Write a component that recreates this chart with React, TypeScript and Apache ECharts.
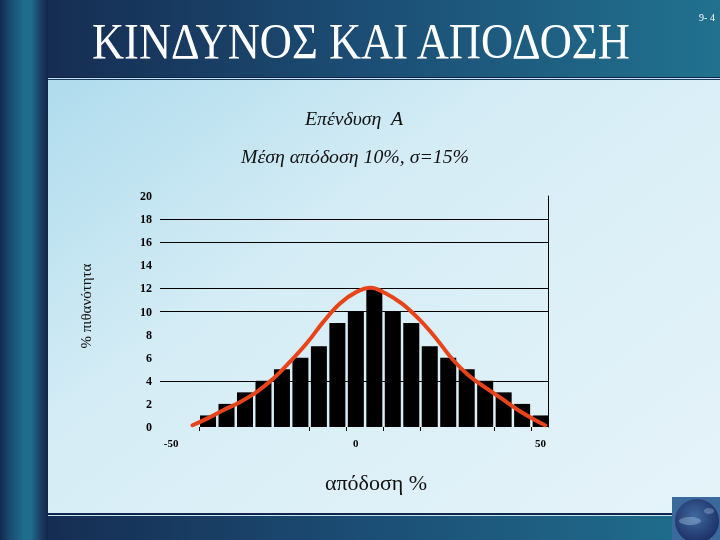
import React, { useEffect, useRef } from "react";
import * as echarts from "echarts";

// ---- data ----
const binCenters = [-40, -35, -30, -25, -20, -15, -10, -5, 0, 5, 10, 15, 20, 25, 30, 35, 40, 45, 50];
const probabilities = [1, 2, 3, 4, 5, 6, 7, 9, 10, 12, 10, 9, 7, 6, 5, 4, 3, 2, 1];
const curveX = [-44.2, -40.4, -35.9, -31.4, -26.8, -22.3, -17.8, -13.3, -8.8, -4.3, 0.2, 4, 7.9, 12.4, 16.9, 21.4, 25.9, 30.4, 34.9, 39.5, 44, 48.5, 51.2];
const curveY = [0.15, 0.7, 1.45, 2.15, 3.05, 4.2, 5.65, 7.25, 9.1, 10.7, 11.7, 12.05, 11.6, 10.7, 9.4, 7.8, 5.95, 4.5, 3.45, 2.45, 1.45, 0.6, 0.15];
const gridValues = [4, 10, 12, 16, 18];
const xLabelValues = [-50, 0, 50];
const xTickValues = [-42.5, -12.5, -2.5, 7.5, 17.5, 37.5, 47.5];

const titleText = "ΚΙΝΔΥΝΟΣ ΚΑΙ ΑΠΟΔΟΣΗ";
const subtitle1 = "Επένδυση  Α";
const subtitle2 = "Μέση απόδοση 10%, σ=15%";
const xName = "απόδοση %";
const yName = "% πιθανότητα";
const slideNo = "9- 4";

const SERIF = "'Liberation Serif', 'Times New Roman', serif";

export default function App() {
  const ref = useRef<HTMLDivElement>(null);
  useEffect(() => {
    const chart = echarts.init(ref.current!, null, { renderer: "svg" });
    const hGrad = (stops: [number, string][]) => ({
      type: "linear", x: 0, y: 0, x2: 1, y2: 0,
      colorStops: stops.map(([offset, color]) => ({ offset, color })),
    });
    const option: any = {
      animation: false,
      graphic: [
        // content background
        { type: "rect", z: -10, shape: { x: 0, y: 0, width: 720, height: 540 },
          style: { fill: { type: "linear", x: 0, y: 0, x2: 1, y2: 1,
            colorStops: [{ offset: 0, color: "#a3d6ea" }, { offset: 0.45, color: "#d6edf6" }, { offset: 1, color: "#e6f4f9" }] } } },
        // top band
        { type: "rect", z: -9, shape: { x: 0, y: 0, width: 720, height: 77 },
          style: { fill: hGrad([[0, "#15284d"], [0.5, "#1c4d74"], [1, "#21718f"]]) } },
        { type: "rect", z: -8, shape: { x: 0, y: 77, width: 720, height: 1 }, style: { fill: "#0f2346" } },
        { type: "rect", z: -8, shape: { x: 0, y: 78, width: 720, height: 1 }, style: { fill: "#c4e2ef" } },
        { type: "rect", z: -8, shape: { x: 0, y: 79, width: 720, height: 1 }, style: { fill: "#1b3a60" } },
        // bottom band
        { type: "rect", z: -9, shape: { x: 0, y: 513, width: 720, height: 2 }, style: { fill: "#10254a" } },
        { type: "rect", z: -9, shape: { x: 0, y: 515, width: 720, height: 1 }, style: { fill: "#c4e2ef" } },
        { type: "rect", z: -9, shape: { x: 0, y: 516, width: 720, height: 24 },
          style: { fill: hGrad([[0, "#15284d"], [0.5, "#1c4d74"], [1, "#20708f"]]) } },
        // left column
        { type: "rect", z: -7, shape: { x: 0, y: 0, width: 48, height: 540 },
          style: { fill: hGrad([[0, "#14284d"], [0.2, "#1a4a70"], [0.5, "#1f6d8d"], [0.65, "#1f6d8d"], [0.85, "#1a3d62"], [1, "#132548"]]) } },
        // globe
        { type: "rect", z: -6, shape: { x: 672, y: 497, width: 48, height: 43 }, style: { fill: "#3a6a9b" } },
        { type: "circle", z: -5, shape: { cx: 697, cy: 521, r: 22 },
          style: { fill: { type: "radial", x: 0.45, y: 0.4, r: 0.65,
            colorStops: [{ offset: 0, color: "#3f6aa0" }, { offset: 1, color: "#1a2a60" }] } } },
        { type: "ellipse", z: -4, shape: { cx: 690, cy: 521, rx: 11, ry: 4 }, style: { fill: "rgba(190,215,240,0.35)" } },
        { type: "ellipse", z: -4, shape: { cx: 709, cy: 511, rx: 5, ry: 3 }, style: { fill: "rgba(190,215,240,0.3)" } },
        // texts
        { type: "text", z: 10, x: 92, y: 41, scaleX: 0.89, originX: 0, originY: 0,
          style: { text: titleText, fill: "#ffffff", fontFamily: SERIF, fontSize: 50, align: "left", verticalAlign: "middle" } },
        { type: "text", z: 10, x: 707, y: 17,
          style: { text: slideNo, fill: "#ffffff", fontFamily: SERIF, fontSize: 10, align: "center", verticalAlign: "middle" } },
        { type: "text", z: 10, x: 354, y: 119, scaleX: 1.1, originX: 0, originY: 0,
          style: { text: subtitle1, fill: "#111111", fontFamily: SERIF, fontStyle: "italic", fontSize: 18, align: "center", verticalAlign: "middle" } },
        { type: "text", z: 10, x: 355, y: 157, scaleX: 1.1, originX: 0, originY: 0,
          style: { text: subtitle2, fill: "#111111", fontFamily: SERIF, fontStyle: "italic", fontSize: 18, align: "center", verticalAlign: "middle" } },
        { type: "text", z: 10, x: 376, y: 482,
          style: { text: xName, fill: "#111111", fontFamily: SERIF, fontSize: 22, align: "center", verticalAlign: "middle" } },
        { type: "text", z: 10, x: 86, y: 306, rotation: Math.PI / 2,
          style: { text: yName, fill: "#111111", fontFamily: SERIF, fontSize: 15, align: "center", verticalAlign: "middle" } },
      ],
      grid: { left: 160, top: 196, width: 388, height: 231 },
      xAxis: {
        type: "value", min: -53, max: 52,
        axisLine: { show: false },
        splitLine: { show: false },
        axisTick: { show: true, customValues: xTickValues, length: 4, lineStyle: { color: "#000", width: 1 } },
        axisLabel: { customValues: xLabelValues, margin: 10, fontFamily: SERIF, fontWeight: "bold", fontSize: 11, color: "#000" },
      },
      yAxis: [
        {
          type: "value", min: 0, max: 20, interval: 2, position: "left",
          axisLine: { show: false }, axisTick: { show: false }, splitLine: { show: false },
          axisLabel: { margin: 8, fontFamily: SERIF, fontWeight: "bold", fontSize: 12, color: "#000" },
        },
        {
          type: "value", min: 0, max: 20, interval: 2, position: "right",
          axisLine: { show: true, lineStyle: { color: "#000", width: 1 } },
          axisTick: { show: false }, axisLabel: { show: false }, splitLine: { show: false },
        },
      ],
      series: [
        {
          type: "bar",
          data: binCenters.map((x, i) => [x, probabilities[i]]),
          barWidth: 16,
          itemStyle: { color: "#000000" },
          markLine: {
            silent: true,
            symbol: ["none", "none"],
            label: { show: false },
            lineStyle: { color: "#000", width: 1, type: "solid" },
            data: gridValues.map((v) => ({ yAxis: v })),
          },
        },
        {
          type: "line",
          data: curveX.map((x, i) => [x, curveY[i]]),
          smooth: 0.4,
          showSymbol: false,
          clip: false,
          z: 5,
          lineStyle: { color: "#e8441c", width: 4, cap: "round", join: "round" },
        },
      ],
    };
    chart.setOption(option);
    return () => chart.dispose();
  }, []);
  return <div ref={ref} style={{ position: "fixed", left: 0, top: 0, width: 720, height: 540 }} />;
}
